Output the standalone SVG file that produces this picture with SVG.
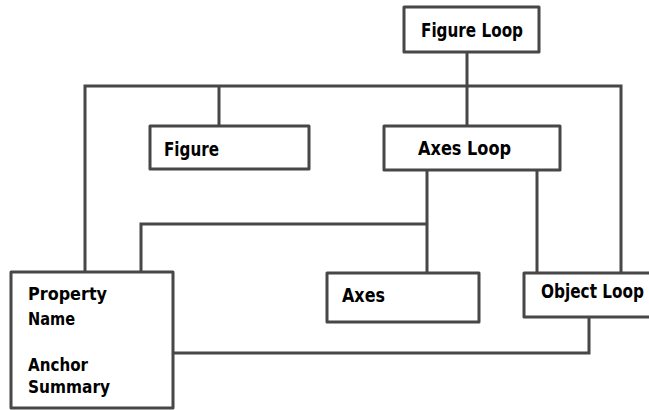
<svg xmlns="http://www.w3.org/2000/svg" width="649" height="410" viewBox="0 0 649 410">
<style>
.box{fill:#fff;stroke:#474747;stroke-width:3;stroke-linejoin:round}
.ln{fill:none;stroke:#474747;stroke-width:3;stroke-linejoin:miter}
text{font-family:"DejaVu Sans","Liberation Sans",sans-serif;font-weight:bold;font-size:20px;fill:#000}
.sm{font-size:18.5px}
</style>
<rect width="649" height="410" fill="#fff"/>
<g id="connectors">
<polyline class="ln" points="467,52 467,126"/>
<polyline class="ln" points="85,272 85,86 621,86 621,273"/>
<polyline class="ln" points="219,86 219,126"/>
<polyline class="ln" points="427,170 427,273"/>
<polyline class="ln" points="141,272 141,224 427,224"/>
<polyline class="ln" points="537,170 537,273"/>
<polyline class="ln" points="589,317 589,353 173,353"/>
</g>
<g id="figure-loop">
<rect class="box" x="404" y="7" width="135" height="45"/>
<text x="421" y="37" textLength="102" lengthAdjust="spacingAndGlyphs">Figure Loop</text>
</g>
<g id="figure">
<rect class="box" x="150" y="126" width="159" height="43"/>
<text x="164" y="156" textLength="55" lengthAdjust="spacingAndGlyphs">Figure</text>
</g>
<g id="axes-loop">
<rect class="box" x="384" y="126" width="176" height="44"/>
<text x="418" y="155" textLength="93" lengthAdjust="spacingAndGlyphs">Axes Loop</text>
</g>
<g id="property">
<rect class="box" x="11" y="272" width="162" height="136"/>
<text class="sm" x="28" y="300" textLength="79" lengthAdjust="spacingAndGlyphs">Property</text>
<text class="sm" x="28" y="325" textLength="47" lengthAdjust="spacingAndGlyphs">Name</text>
<text class="sm" x="28" y="371" textLength="60" lengthAdjust="spacingAndGlyphs">Anchor</text>
<text class="sm" x="28" y="393" textLength="82" lengthAdjust="spacingAndGlyphs">Summary</text>
</g>
<g id="axes">
<rect class="box" x="327" y="273" width="152" height="49"/>
<text x="342" y="302" textLength="43" lengthAdjust="spacingAndGlyphs">Axes</text>
</g>
<g id="object-loop">
<rect class="box" x="524" y="273" width="130" height="44"/>
<text x="541" y="298" textLength="103" lengthAdjust="spacingAndGlyphs">Object Loop</text>
</g>
</svg>
